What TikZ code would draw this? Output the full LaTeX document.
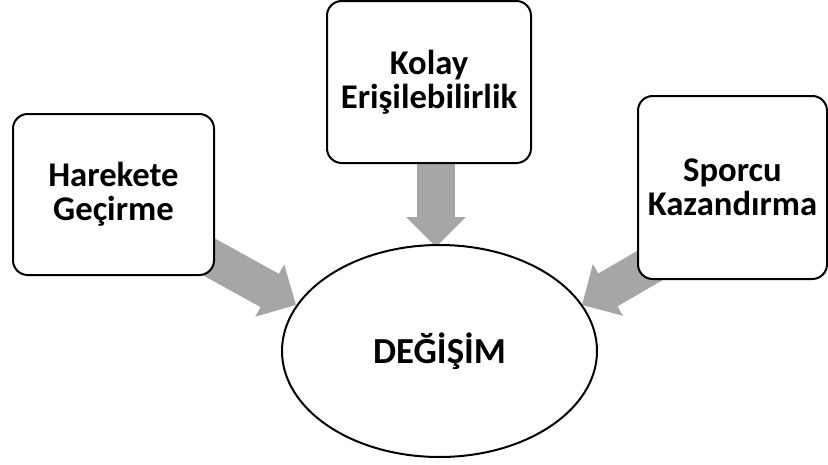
\documentclass[tikz,border=0pt]{standalone}
\usepackage{fontspec}
\setmainfont{Carlito}
\usetikzlibrary{arrows.meta,shapes.geometric,backgrounds}
\definecolor{arrowgray}{RGB}{166,166,166}
\tikzset{
  box/.style={draw=black, line width=1.5pt, fill=white, rounded corners=11pt,
    align=center, font=\fontsize{26}{25.5}\selectfont\bfseries, inner sep=0pt},
  oval/.style={ellipse, draw=black, line width=1.5pt, fill=white, inner sep=0pt,
    minimum width=236.25pt, minimum height=159pt,
    font=\fontsize{27.5}{30}\selectfont\bfseries},
  bigarrow/.style={line width=28.5pt, draw=arrowgray,
    -{Triangle[length=22.5pt,width=43.5pt,fill=arrowgray]}}
}
\begin{document}
\begin{tikzpicture}[x=0.75pt,y=-0.75pt]
\useasboundingbox (0,0) rectangle (828,464);
\node[box, minimum width=150.75pt, minimum height=120.75pt] (hg) at (113.5,194.5) {Harekete\\Geçirme};
\node[box, minimum width=153pt, minimum height=121.5pt] (ke) at (429,82) {Kolay\\Erişilebilirlik};
\node[box, minimum width=141.75pt, minimum height=137.25pt] (sk) at (732.5,187.5) {Sporcu\\Kazandırma};
\node[oval] (d) at (439.5,351) {DEĞİŞİM};
\coordinate (s1) at (191,247);
\coordinate (t1) at (296,305);
\coordinate (s2) at (436,120);
\coordinate (t2) at (436,247);
\coordinate (s3) at (692,241);
\coordinate (t3) at (582,305);
\begin{scope}[on background layer]
\draw[bigarrow] (s1) -- (t1);
\draw[bigarrow] (s2) -- (t2);
\draw[bigarrow] (s3) -- (t3);
\end{scope}
\end{tikzpicture}
\end{document}
